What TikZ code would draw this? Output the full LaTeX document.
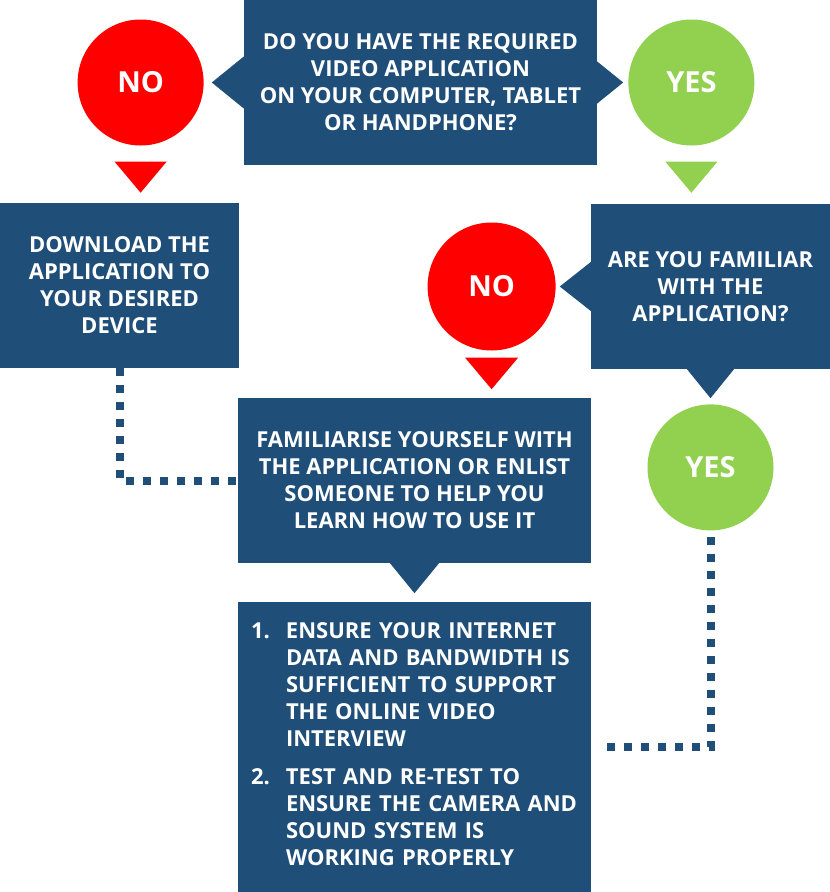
\documentclass[tikz,border=0pt]{standalone}
\usepackage{fontspec}
\setmainfont{Open Sans}
\usepackage{xcolor}
\usetikzlibrary{positioning}
\definecolor{boxblue}{HTML}{1F4E79}
\definecolor{nored}{HTML}{FF0000}
\definecolor{yesgreen}{HTML}{92D050}

\begin{document}
\begin{tikzpicture}[x=1pt,y=1pt,
                  box/.style={rectangle,fill=boxblue,text=white,inner sep=0pt,align=center,
                    font=\fontsize{22}{27}\selectfont\bfseries},
                  answer/.style={circle,text=white,inner sep=0pt,minimum size=126pt,
                    font=\fontsize{29}{34}\selectfont\bfseries},
                  nocircle/.style={answer,fill=nored},
                  yescircle/.style={answer,fill=yesgreen},
                  pointer/.style={fill=boxblue},
                  dots/.style={draw=boxblue,line width=8pt,dash pattern=on 8pt off 9pt}
                  ]
                  \useasboundingbox (0,0) rectangle (830,-892);
                  % question boxes
                  \node[box,minimum width=353pt,minimum height=165pt] (q1) at (420.5,-82.5)
                    {DO YOU HAVE THE REQUIRED\\VIDEO APPLICATION\\ON YOUR COMPUTER, TABLET\\OR HANDPHONE?};
                  \node[box,minimum width=239pt,minimum height=165pt] (q2) at (710.5,-286.5)
                    {ARE YOU FAMILIAR\\WITH THE\\APPLICATION?};
                  \node[box,minimum width=239pt,minimum height=165pt] (dl) at (119.5,-285.5)
                    {DOWNLOAD THE\\APPLICATION TO\\YOUR DESIRED\\DEVICE};
                  \node[box,minimum width=353pt,minimum height=165pt] (fam) at (414.5,-480.5)
                    {FAMILIARISE YOURSELF WITH\\THE APPLICATION OR ENLIST\\SOMEONE TO HELP YOU\\LEARN HOW TO USE IT};
                  \node[box,minimum width=353pt,minimum height=290pt,text width=327pt,align=left] (ens) at (414.5,-747)
                    {\begin{tabular}{@{}p{35pt}@{}l@{}}
                      1. & ENSURE YOUR INTERNET\\
                         & DATA AND BANDWIDTH IS\\
                         & SUFFICIENT TO SUPPORT\\
                         & THE ONLINE VIDEO\\
                         & INTERVIEW\\[11pt]
                      2. & TEST AND RE-TEST TO\\
                         & ENSURE THE CAMERA AND\\
                         & SOUND SYSTEM IS\\
                         & WORKING PROPERLY
                    \end{tabular}};
                  % answers
                  \node[nocircle] (no1) [left=40pt of q1] {NO};
                  \node[yescircle] (yes1) [right=31pt of q1] {YES};
                  \node[nocircle,minimum size=128pt] (no2) [left=35pt of q2] {NO};
                  \node[yescircle] (yes2) [below=35pt of q2] {YES};
                  % callout pointers
                  \fill[pointer] ([yshift=26]q1.west) -- ([xshift=-32]q1.west) -- ([yshift=-26]q1.west) -- cycle;
                  \fill[pointer] ([yshift=21]q1.east) -- ([xshift=26]q1.east) -- ([yshift=-21]q1.east) -- cycle;
                  \fill[pointer] ([yshift=24.5]q2.west) -- ([xshift=-31]q2.west) -- ([yshift=-24.5]q2.west) -- cycle;
                  \fill[pointer] ([xshift=-23.5]q2.south) -- ([yshift=-29]q2.south) -- ([xshift=23.5]q2.south) -- cycle;
                  \fill[pointer] ([xshift=-24.5]fam.south) -- ([yshift=-30]fam.south) -- ([xshift=24.5]fam.south) -- cycle;
                  % answer arrows
                  \fill[nored] ([shift={(-26,-16)}]no1.south) -- ([shift={(26,-16)}]no1.south) -- ([yshift=-47]no1.south) -- cycle;
                  \fill[yesgreen] ([shift={(-26,-16)}]yes1.south) -- ([shift={(26,-16)}]yes1.south) -- ([yshift=-47]yes1.south) -- cycle;
                  \fill[nored] ([shift={(-26.5,-7)}]no2.south) -- ([shift={(26.5,-7)}]no2.south) -- ([yshift=-38.5]no2.south) -- cycle;
                  % dotted links
                  \draw[dots] (dl.south) |- (fam.west);
                  \draw[dots,shorten <=6pt,shorten >=12pt] (yes2.south) |- (ens.east);
                \end{tikzpicture}
\end{document}
